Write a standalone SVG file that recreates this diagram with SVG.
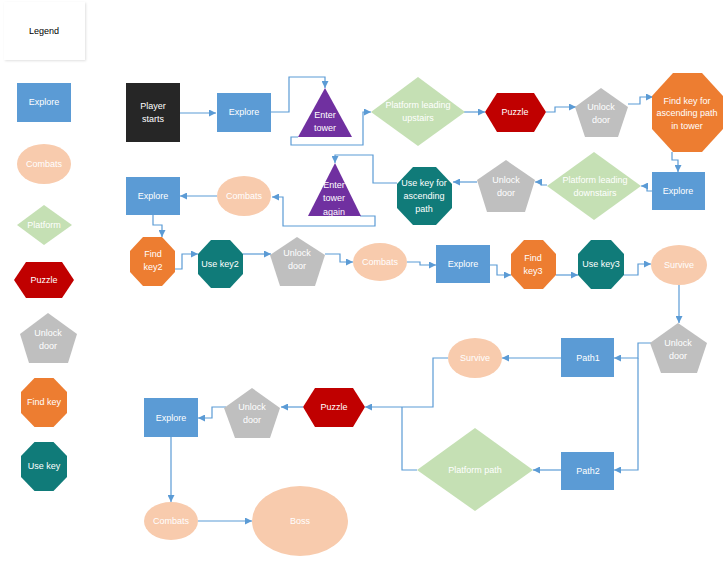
<svg xmlns="http://www.w3.org/2000/svg" width="728" height="562" viewBox="0 0 728 562">
<defs>
<style>
text{font-family:"Liberation Sans",Arial,sans-serif;font-size:9px;fill:#fff;text-anchor:middle;dominant-baseline:central}
.lg{fill:#000}
.ex{fill:#5B9BD5}
.cb{fill:#F8CBAD}
.pf{fill:#C5E0B4}
.pz{fill:#C00000}
.ud{fill:#BFBFBF}
.fk{fill:#ED7D31}
.uk{fill:#107B79}
.tw{fill:#7030A0}
.ps{fill:#262626}
.c path{fill:none;stroke:#5B9BD5;stroke-width:1.2}
</style>
<marker id="ah" viewBox="0 0 10 10" refX="10" refY="5" markerWidth="7" markerHeight="7" markerUnits="userSpaceOnUse" orient="auto"><path d="M0,0 L10,5 L0,10 z" fill="#5B9BD5"/></marker>
<filter id="sh" x="-20%" y="-20%" width="140%" height="140%"><feDropShadow dx="1" dy="1" stdDeviation="1.2" flood-color="#000" flood-opacity="0.12"/></filter>
</defs>
<rect width="728" height="562" fill="#fff"/>

<g id="legend">
<rect x="4" y="2" width="81" height="58" fill="#fff" filter="url(#sh)"/>
<text class="lg" x="44" y="31">Legend</text>
<g id="lg-explore"><rect class="ex" x="17" y="83" width="54" height="39"/><text x="44" y="102">Explore</text></g>
<g id="lg-combats"><ellipse class="cb" cx="44" cy="164" rx="27" ry="20"/><text x="44" y="164">Combats</text></g>
<g id="lg-platform"><polygon class="pf" points="44,205 72,225 44,245 17,225"/><text x="44" y="225">Platform</text></g>
<g id="lg-puzzle"><polygon class="pz" points="14,280 26,262 62,262 74,280 62,298 26,298"/><text x="44" y="280">Puzzle</text></g>
<g id="lg-unlock"><polygon class="ud" points="48,313 77,334 68,363 29,363 20,334"/><text x="48" y="333">Unlock</text><text x="48" y="346">door</text></g>
<g id="lg-findkey"><polygon class="fk" points="34.5,378 53.5,378 67,392 67,413 53.5,427 34.5,427 21,413 21,392"/><text x="44" y="402">Find key</text></g>
<g id="lg-usekey"><polygon class="uk" points="34.5,442 53.5,442 67,456 67,477 53.5,491 34.5,491 21,477 21,456"/><text x="44" y="466">Use key</text></g>
</g>

<g class="c" id="connectors">
<path d="M180,113 H216" marker-end="url(#ah)"/>
<path d="M271,112 H289 V77 H325 V88" marker-end="url(#ah)"/>
<path d="M298,137 H291 V145 H363 V112 H371" marker-end="url(#ah)"/>
<path d="M464,112 H485" marker-end="url(#ah)"/>
<path d="M546,112 H555 V107 H576" marker-end="url(#ah)"/>
<path d="M628,104 H640 V97 H653" marker-end="url(#ah)"/>
<path d="M672,152 V160 H678 V172" marker-end="url(#ah)"/>
<path d="M652,191 H647 V186 H641" marker-end="url(#ah)"/>
<path d="M547,185 H541 V182 H535" marker-end="url(#ah)"/>
<path d="M477,182 H453" marker-end="url(#ah)"/>
<path d="M397,183 H373 V155 H335 V163" marker-end="url(#ah)"/>
<path d="M360,216 H375 V226 H283 V197 H272" marker-end="url(#ah)"/>
<path d="M217,196 H180" marker-end="url(#ah)"/>
<path d="M153,215 V225 H162 V237" marker-end="url(#ah)"/>
<path d="M175,269 H182 V254 H198" marker-end="url(#ah)"/>
<path d="M243,254 H271" marker-end="url(#ah)"/>
<path d="M325,254 H340 V262 H353" marker-end="url(#ah)"/>
<path d="M407,262 H420 V265 H436" marker-end="url(#ah)"/>
<path d="M490,265 H497 V275 H511" marker-end="url(#ah)"/>
<path d="M556,275 H578" marker-end="url(#ah)"/>
<path d="M624,275 H638 V264 H651" marker-end="url(#ah)"/>
<path d="M679,285 V323" marker-end="url(#ah)"/>
<path d="M651,343 H638 V358 H614" marker-end="url(#ah)"/>
<path d="M638,358 V470 H614" marker-end="url(#ah)"/>
<path d="M561,358 H502" marker-end="url(#ah)"/>
<path d="M561,470 H533" marker-end="url(#ah)"/>
<path d="M448,358 H433 V407 H365" marker-end="url(#ah)"/>
<path d="M417,470 H402 V407"/>
<path d="M303,407 H281" marker-end="url(#ah)"/>
<path d="M226,407 H212 V418 H198" marker-end="url(#ah)"/>
<path d="M171,437 V502" marker-end="url(#ah)"/>
<path d="M198,521 H252" marker-end="url(#ah)"/>
</g>

<g id="player-starts"><rect class="ps" x="126" y="83" width="54" height="59"/><text x="153" y="106">Player</text><text x="153" y="119">starts</text></g>
<g id="explore1"><rect class="ex" x="217" y="93" width="54" height="39"/><text x="244" y="112">Explore</text></g>
<g id="enter-tower"><polygon class="tw" points="325,88 352,137 298,137"/><text x="325" y="115">Enter</text><text x="325" y="128">tower</text></g>
<g id="platform-up"><polygon class="pf" points="418,77 465,112 418,146 371,112"/><text x="418" y="105">Platform leading</text><text x="418" y="118">upstairs</text></g>
<g id="puzzle1"><polygon class="pz" points="485,112 497,93 534,93 546,112 534,132 497,132"/><text x="515" y="112">Puzzle</text></g>
<g id="unlock1"><polygon class="ud" points="601,88 628,107 618,137 585,137 575,107"/><text x="601" y="107">Unlock</text><text x="601" y="120">door</text></g>
<g id="findkey-asc"><polygon class="fk" points="673,73 702,73 723,96 723,129 702,152 673,152 652,129 652,96"/><text x="687" y="101">Find key for</text><text x="687" y="113">ascending path</text><text x="687" y="126">in tower</text></g>
<g id="explore2"><rect class="ex" x="652" y="172" width="53" height="38"/><text x="678" y="191">Explore</text></g>
<g id="platform-down"><polygon class="pf" points="594,152 641,186 594,220 547,186"/><text x="595" y="180">Platform leading</text><text x="595" y="193">downstairs</text></g>
<g id="unlock2"><polygon class="ud" points="506,160 535,180 525,212 487,212 477,180"/><text x="506" y="180">Unlock</text><text x="506" y="193">door</text></g>
<g id="usekey-asc"><polygon class="uk" points="413,167 436,167 452,184 452,208 436,225 413,225 397,208 397,184"/><text x="424" y="183">Use key for</text><text x="424" y="196">ascending</text><text x="424" y="209">path</text></g>
<g id="enter-again"><polygon class="tw" points="335,163 361,216 308,216"/><text x="334" y="185">Enter</text><text x="334" y="198">tower</text><text x="334" y="212">again</text></g>
<g id="combats1"><ellipse class="cb" cx="244" cy="196" rx="27" ry="20"/><text x="244" y="196">Combats</text></g>
<g id="explore3"><rect class="ex" x="126" y="177" width="54" height="38"/><text x="153" y="196">Explore</text></g>
<g id="findkey2"><polygon class="fk" points="143,237 162,237 175,251 175,272 162,286 143,286 130,272 130,251"/><text x="153" y="254">Find</text><text x="153" y="267">key2</text></g>
<g id="usekey2"><polygon class="uk" points="211,240 230,240 243,254 243,274 230,288 211,288 198,274 198,254"/><text x="220" y="264">Use key2</text></g>
<g id="unlock3"><polygon class="ud" points="297,237 325,255 315,286 280,286 270,255"/><text x="297" y="253">Unlock</text><text x="297" y="266">door</text></g>
<g id="combats2"><ellipse class="cb" cx="380" cy="262" rx="27" ry="19"/><text x="380" y="262">Combats</text></g>
<g id="explore4"><rect class="ex" x="436" y="245" width="54" height="38"/><text x="463" y="264">Explore</text></g>
<g id="findkey3"><polygon class="fk" points="524,240 543,240 556,254 556,275 543,289 524,289 511,275 511,254"/><text x="533" y="258">Find</text><text x="533" y="271">key3</text></g>
<g id="usekey3"><polygon class="uk" points="591,240 611,240 624,254 624,275 611,289 591,289 578,275 578,254"/><text x="601" y="264">Use key3</text></g>
<g id="survive1"><ellipse class="cb" cx="679" cy="265" rx="28" ry="20"/><text x="679" y="265">Survive</text></g>
<g id="unlock4"><polygon class="ud" points="678,323 707,343 697,373 661,373 650,343"/><text x="678" y="343">Unlock</text><text x="678" y="356">door</text></g>
<g id="path1"><rect class="ex" x="561" y="338" width="53" height="39"/><text x="588" y="358">Path1</text></g>
<g id="path2"><rect class="ex" x="561" y="452" width="53" height="38"/><text x="588" y="471">Path2</text></g>
<g id="survive2"><ellipse class="cb" cx="475" cy="358" rx="27" ry="20"/><text x="475" y="358">Survive</text></g>
<g id="platform-path"><polygon class="pf" points="475,428 533,470 475,511 417,470"/><text x="475" y="470">Platform path</text></g>
<g id="puzzle2"><polygon class="pz" points="303,407 315,388 353,388 365,407 353,427 315,427"/><text x="334" y="407">Puzzle</text></g>
<g id="unlock5"><polygon class="ud" points="252,388 280,408 270,438 235,438 224,408"/><text x="252" y="407">Unlock</text><text x="252" y="420">door</text></g>
<g id="explore5"><rect class="ex" x="144" y="398" width="54" height="39"/><text x="171" y="418">Explore</text></g>
<g id="combats3"><ellipse class="cb" cx="171" cy="521" rx="27" ry="19"/><text x="171" y="521">Combats</text></g>
<g id="boss"><ellipse class="cb" cx="300" cy="521" rx="48" ry="35"/><text x="300" y="521">Boss</text></g>
</svg>
